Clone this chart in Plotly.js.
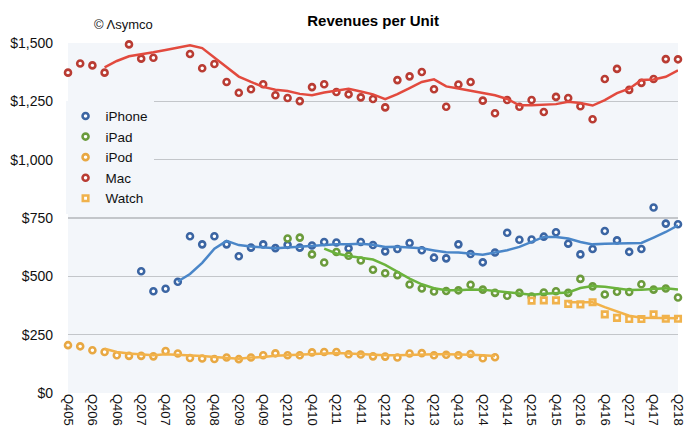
<!DOCTYPE html>
<html>
<head>
<meta charset="utf-8">
<script src="https://cdn.plot.ly/plotly-3.0.1.min.js"></script>
<style>html,body{margin:0;padding:0;background:#fff;}#chart{width:700px;height:438px;}</style>
</head>
<body>
<div id="chart"></div>
<script>
const quarters = ["Q405","Q106","Q206","Q306","Q406","Q107","Q207","Q307","Q407","Q108","Q208","Q308","Q408","Q109","Q209","Q309","Q409","Q110","Q210","Q310","Q410","Q111","Q211","Q311","Q411","Q112","Q212","Q312","Q412","Q113","Q213","Q313","Q413","Q114","Q214","Q314","Q414","Q115","Q215","Q315","Q415","Q116","Q216","Q316","Q416","Q117","Q217","Q317","Q417","Q118","Q218"];
const tickLabels = ["Q405","Q206","Q406","Q207","Q407","Q208","Q408","Q209","Q409","Q210","Q410","Q211","Q411","Q212","Q412","Q213","Q413","Q214","Q414","Q215","Q415","Q216","Q416","Q217","Q417","Q218"];
const yTicks = [0,250,500,750,1000,1250,1500];
const yTickText = ["$0","$250","$500","$750","$1,000","$1,250","$1,500"];

const N = null;
const iphone = [N,N,N,N,N,N,522,436,447,477,672,637,672,637,586,623,637,621,635,623,632,647,645,620,647,634,607,617,643,612,580,577,637,596,560,602,687,657,658,670,689,640,594,617,694,654,605,617,795,726,723];
const iphoneTrend = [N,N,N,N,N,N,N,N,N,478,510,558,618,652,634,628,624,620,624,627,630,635,637,637,640,635,626,627,625,620,611,603,602,599,593,602,612,626,647,669,669,662,647,637,640,640,643,643,666,690,719];
const ipad = [N,N,N,N,N,N,N,N,N,N,N,N,N,N,N,N,N,N,662,666,594,559,604,588,568,528,513,505,465,448,435,437,440,464,443,429,417,429,413,431,436,429,489,457,422,434,433,466,443,448,409];
const ipadTrend = [N,N,N,N,N,N,N,N,N,N,N,N,N,N,N,N,N,N,N,N,N,619,598,587,580,572,549,520,490,466,449,440,440,444,443,437,432,429,421,425,428,431,450,458,455,449,441,443,447,449,443];
const ipod = [205,200,183,176,162,159,159,157,180,169,150,148,146,152,145,152,162,170,162,162,174,176,176,166,165,157,156,152,169,171,162,164,162,167,149,153,N,N,N,N,N,N,N,N,N,N,N,N,N,N,N];
const ipodTrend = [N,N,N,190,176,169,164,162,166,164,162,159,154,150,147,152,154,160,162,164,169,171,171,169,166,162,162,162,164,166,166,166,166,164,162,159,N,N,N,N,N,N,N,N,N,N,N,N,N,N,N];
const mac = [1373,1412,1404,1373,N,1494,1433,1437,N,N,1453,1392,1410,1333,1287,1302,1323,1276,1264,1251,1311,1323,1290,1280,1267,1260,1224,1341,1357,1376,1302,1227,1322,1333,1253,1199,1256,1227,1256,1204,1269,1264,1229,1173,1346,1389,1299,1329,1346,1431,1430];
const macTrend = [N,N,N,1396,1423,1443,1450,1460,1470,1481,1490,1478,1438,1395,1356,1333,1312,1300,1294,1282,1276,1288,1297,1304,1292,1280,1259,1281,1307,1333,1344,1314,1305,1295,1283,1276,1260,1233,1233,1235,1238,1248,1243,1232,1255,1285,1304,1341,1344,1355,1383];
const watch = [N,N,N,N,N,N,N,N,N,N,N,N,N,N,N,N,N,N,N,N,N,N,N,N,N,N,N,N,N,N,N,N,N,N,N,N,N,N,396,397,397,382,380,389,337,322,317,317,337,318,318];
const watchTrend = [N,N,N,N,N,N,N,N,N,N,N,N,N,N,N,N,N,N,N,N,N,N,N,N,N,N,N,N,N,N,N,N,N,N,N,N,N,N,N,N,N,389,389,389,368,349,331,323,323,320,320];

const series = [
  {name:"iPhone", y:iphone, trend:iphoneTrend, mc:"#3b65a3", lc:"#4a86c8", sym:"circle"},
  {name:"iPad", y:ipad, trend:ipadTrend, mc:"#6b9b3c", lc:"#6bb33d", sym:"circle"},
  {name:"iPod", y:ipod, trend:ipodTrend, mc:"#e8a843", lc:"#f2b24a", sym:"circle"},
  {name:"Mac", y:mac, trend:macTrend, mc:"#b93c33", lc:"#e24a3e", sym:"circle"},
  {name:"Watch", y:watch, trend:watchTrend, mc:"#f0b24c", lc:"#f2b24a", sym:"square"}
];

const traces = [];
series.forEach(s => {
  traces.push({
    x: quarters, y: s.y, name: s.name, type: "scatter", mode: "markers",
    cliponaxis: false,
    marker: {symbol: s.sym, size: s.sym === "square" ? 5.5 : 6, color: "#ffffff", line: {color: s.mc, width: 2.6}}
  });
});
series.forEach(s => {
  traces.push({
    x: quarters, y: s.trend, name: s.name + " trend", type: "scatter", mode: "lines",
    showlegend: false, hoverinfo: "skip", connectgaps: false,
    line: {color: s.lc, width: 2.5}
  });
});

const layout = {
  width: 700, height: 438,
  margin: {l: 68, r: 22, t: 43, b: 45, pad: 0},
  paper_bgcolor: "#ffffff",
  plot_bgcolor: "#f3f6fa",
  font: {family: "Liberation Sans, Arial, sans-serif", color: "#111111"},
  title: {text: "<b>Revenues per Unit</b>", font: {size: 15, color: "#000"}, x: 0.533, xanchor: "center", y: 0.952, yanchor: "middle"},
  showlegend: true,
  legend: {x: -0.004, xanchor: "left", y: 0.835, yanchor: "top", bgcolor: "#f3f6fa", font: {size: 13.5}, tracegroupgap: 0, itemwidth: 30},
  xaxis: {
    type: "category", range: [0, 50], tickmode: "array", tickvals: tickLabels, ticktext: tickLabels,
    tickangle: 90, tickfont: {size: 13}, showgrid: false, zeroline: false, showline: false, ticks: "",
    fixedrange: true
  },
  yaxis: {
    range: [0, 1500], tickvals: yTicks, ticktext: yTickText, tickfont: {size: 14},
    showgrid: true, gridcolor: "#c3c6ca", gridwidth: 1.5, zeroline: false, showline: false, ticks: "",
    ticklabelstandoff: 14
  },
  annotations: [
    {text: "© Λsymco", xref: "paper", yref: "paper", x: 0.039, y: 1.054, xanchor: "left", yanchor: "middle", showarrow: false, font: {size: 13, color: "#111"}}
  ]
};

Plotly.newPlot("chart", traces, layout, {displayModeBar: false, staticPlot: true});
</script>
</body>
</html>
